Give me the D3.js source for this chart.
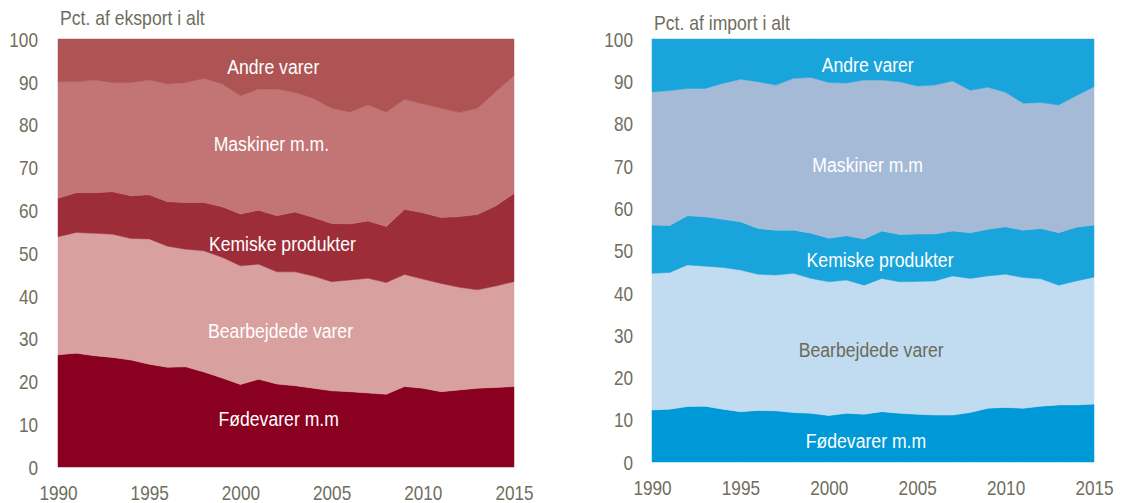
<!DOCTYPE html>
<html>
<head>
<meta charset="utf-8">
<script src="https://cdn.jsdelivr.net/npm/d3@7"></script>
<style>
  body { margin: 0; background: #fff; }
  svg text { font-family: "Liberation Sans", Arial, sans-serif; }
</style>
</head>
<body>
<svg id="chart" width="1126" height="503"></svg>
<script>
// years on the x axis
var years = [1990, 1991, 1992, 1993, 1994, 1995, 1996, 1997, 1998, 1999,
             2000, 2001, 2002, 2003, 2004, 2005, 2006, 2007, 2008, 2009,
             2010, 2011, 2012, 2013, 2014, 2015];

var xTickYears = [1990, 1995, 2000, 2005, 2010, 2015];
var yTickValues = [0, 10, 20, 30, 40, 50, 60, 70, 80, 90, 100];

// export shares, pct.
var expFoedevarer = [26.2, 26.6, 26.0, 25.6, 25.0, 24.0, 23.3, 23.4, 22.2, 20.8, 19.3, 20.5, 19.4,
                     19.0, 18.4, 17.8, 17.6, 17.3, 17.0, 18.8, 18.4, 17.6, 18.0, 18.4, 18.6, 18.8];
var expBearbejdede = [27.6, 28.2, 28.6, 28.8, 28.4, 29.3, 28.3, 27.5, 28.3, 28.2, 27.7, 26.9, 26.2,
                      26.6, 26.2, 25.5, 26.1, 26.8, 26.1, 26.2, 25.5, 25.3, 24.0, 23.0, 23.7, 24.5];
var expKemiske = [9.0, 9.3, 9.5, 9.9, 10.0, 10.3, 10.4, 10.9, 11.3, 11.8, 12.1, 12.6, 13.1,
                  14.0, 13.7, 13.6, 13.1, 13.4, 13.1, 15.2, 15.5, 15.4, 16.5, 17.6, 18.7, 20.6];
var expMaskiner = [27.2, 25.9, 26.3, 25.5, 26.4, 26.8, 27.5, 28.0, 29.0, 28.7, 27.6, 28.3, 29.6,
                   27.9, 27.8, 26.9, 26.1, 27.1, 26.7, 25.7, 25.4, 25.5, 24.3, 24.8, 26.7, 27.5];
var expAndre = [10.0, 10.0, 9.6, 10.2, 10.2, 9.6, 10.5, 10.2, 9.2, 10.5, 13.3, 11.7, 11.7,
                12.5, 13.9, 16.2, 17.1, 15.4, 17.1, 14.1, 15.2, 16.2, 17.2, 16.2, 12.3, 8.6];

// import shares, pct.
var impFoedevarer = [12.3, 12.5, 13.1, 13.2, 12.5, 11.9, 12.2, 12.1, 11.7, 11.5, 11.0, 11.5, 11.3,
                     11.9, 11.5, 11.3, 11.1, 11.1, 11.7, 12.7, 12.9, 12.7, 13.2, 13.5, 13.5, 13.7];
var impBearbejdede = [32.3, 32.3, 33.5, 33.1, 33.5, 33.5, 32.2, 32.1, 32.9, 31.9, 31.6, 31.5, 30.5,
                      31.5, 31.1, 31.4, 31.7, 32.9, 31.7, 31.3, 31.5, 30.9, 30.1, 28.3, 29.3, 30.0];
var impKemiske = [11.4, 11.1, 11.6, 11.7, 11.4, 11.4, 10.8, 10.6, 10.2, 10.7, 10.3, 10.5, 10.9,
                  11.2, 11.2, 11.2, 11.1, 10.6, 10.8, 11.0, 11.2, 11.2, 11.9, 12.4, 12.7, 12.3];
var impMaskiner = [31.5, 31.9, 30.1, 30.3, 32.1, 33.7, 34.7, 34.3, 35.9, 36.8, 36.8, 36.1, 37.6,
                   35.7, 36.1, 35.0, 35.2, 35.5, 33.7, 33.6, 31.8, 30.0, 29.8, 30.2, 31.1, 32.7];
var impAndre = [12.5, 12.2, 11.7, 11.7, 10.5, 9.5, 10.1, 10.9, 9.3, 9.1, 10.3, 10.4, 9.7,
                9.7, 10.1, 11.1, 10.9, 9.9, 12.1, 11.4, 12.6, 15.2, 15.0, 15.6, 13.4, 11.3];

var keys = ["foede", "bearb", "kemi", "mask", "andre"];

function buildRows(cols) {
  return years.map(function(y, i) {
    var row = { year: y };
    keys.forEach(function(k, j) { row[k] = cols[j][i]; });
    return row;
  });
}

var svg = d3.select("#chart");
var tickColor = "#6f6e5e";
// the original uses a narrow face, squeeze Liberation Sans a bit
var squeeze = "scale(0.86,1)";

function drawPanel(cfg) {
  var x = d3.scaleLinear().domain([1990, 2015]).range([cfg.left, cfg.right]);
  var y = d3.scaleLinear().domain([0, 100]).range([cfg.bottom, cfg.top]);

  var rows = buildRows(cfg.cols);
  var stacked = d3.stack().keys(keys)(rows);

  var area = d3.area()
    .x(function(d) { return x(d.data.year); })
    .y0(function(d) { return y(d[0]); })
    .y1(function(d) { return y(d[1]); });

  var g = svg.append("g");

  g.selectAll("path.band")
    .data(stacked)
    .enter().append("path")
    .attr("class", "band")
    .attr("d", area)
    .attr("fill", function(d, i) { return cfg.colors[i]; })
    .attr("stroke", function(d, i) { return cfg.colors[i]; })
    .attr("stroke-width", 0.5);

  // y axis labels
  var yAxis = d3.axisLeft(y).tickValues(yTickValues).tickSize(0).tickPadding(0);
  var ya = g.append("g")
    .attr("transform", "translate(" + cfg.yLabelX + ",0)")
    .call(yAxis);
  ya.select(".domain").remove();
  ya.selectAll("text")
    .attr("fill", tickColor)
    .style("font-size", "20px")
    .attr("dy", "0.36em")
    .attr("transform", squeeze);

  // x axis labels
  var xAxis = d3.axisBottom(x).tickValues(xTickYears).tickFormat(d3.format("d")).tickSize(0).tickPadding(0);
  var xa = g.append("g")
    .attr("transform", "translate(0," + cfg.xLabelY + ")")
    .call(xAxis);
  xa.select(".domain").remove();
  xa.selectAll("text")
    .attr("fill", tickColor)
    .style("font-size", "20px")
    .attr("dy", "0")
    .attr("transform", squeeze);

  g.append("text")
    .attr("transform", "translate(" + (cfg.left + 2) + "," + cfg.titleY + ") scale(0.88,1)")
    .attr("fill", tickColor)
    .style("font-size", "20px")
    .text(cfg.title);

  // series labels inside the bands
  cfg.labels.forEach(function(l) {
    g.append("text")
      .attr("transform", "translate(" + x(l.at[0]) + "," + y(l.at[1]) + ") scale(0.84,1)")
      .attr("text-anchor", "middle")
      .attr("dy", "0.36em")
      .attr("fill", l.color || "#fff")
      .style("font-size", "21px")
      .text(l.text);
  });
}

drawPanel({
  cols: [expFoedevarer, expBearbejdede, expKemiske, expMaskiner, expAndre],
  colors: ["#8a0020", "#d8a09e", "#9e2d3a", "#c27574", "#ae5454"],
  left: 58, right: 514, top: 39, bottom: 467,
  yLabelX: 38, xLabelY: 500, titleY: 25,
  title: "Pct. af eksport i alt",
  labels: [
    { text: "Andre varer", at: [2001.8, 93.7] },
    { text: "Maskiner m.m.", at: [2001.7, 75.5] },
    { text: "Kemiske produkter", at: [2002.3, 52.3] },
    { text: "Bearbejdede varer", at: [2002.2, 32.0] },
    { text: "Fødevarer m.m", at: [2002.1, 11.4] }
  ]
});

drawPanel({
  cols: [impFoedevarer, impBearbejdede, impKemiske, impMaskiner, impAndre],
  colors: ["#0099d8", "#c1dcf0", "#19a4dc", "#a4bad6", "#19a4dc"],
  left: 652, right: 1094, top: 39, bottom: 462,
  yLabelX: 633, xLabelY: 495, titleY: 30,
  title: "Pct. af import i alt",
  labels: [
    { text: "Andre varer", at: [2002.2, 94.1] },
    { text: "Maskiner m.m", at: [2002.2, 70.4] },
    { text: "Kemiske produkter", at: [2002.9, 47.8] },
    { text: "Bearbejdede varer", at: [2002.4, 26.5], color: "#6b6a5a" },
    { text: "Fødevarer m.m", at: [2002.1, 5.2] }
  ]
});
</script>
</body>
</html>
